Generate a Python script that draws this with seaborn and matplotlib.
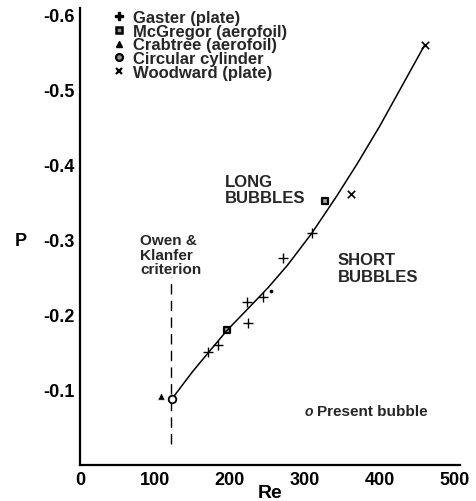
import matplotlib
matplotlib.use("Agg")
import matplotlib.pyplot as plt
from matplotlib.lines import Line2D
import seaborn as sns
import pandas as pd

# Measured data points (Re, P)
gaster_re = [171, 184, 223, 224, 244, 271, 309]
gaster_p = [-0.151, -0.159, -0.217, -0.189, -0.223, -0.276, -0.309]
mcgregor_re = [196, 327]
mcgregor_p = [-0.179, -0.351]
crabtree_re = [108]
crabtree_p = [-0.092]
cylinder_re = [255]
cylinder_p = [-0.232]
woodward_re = [361, 460]
woodward_p = [-0.360, -0.559]
present_re = [122.7]
present_p = [-0.088]

# Fitted curve through the data
curve_re = [122.7, 150, 175, 196, 227, 251, 277, 309, 342, 370, 400, 430, 460]
curve_p = [-0.088, -0.124, -0.154, -0.179, -0.211, -0.236, -0.266, -0.308,
           -0.357, -0.401, -0.451, -0.505, -0.559]

# Owen & Klanfer criterion
criterion_re = [122, 122]
criterion_p = [-0.028, -0.250]

x_ticks = [0, 100, 200, 300, 400, 500]
y_ticks = [-0.1, -0.2, -0.3, -0.4, -0.5, -0.6]
y_tick_labels = ["-0.1", "-0.2", "-0.3", "-0.4", "-0.5", "-0.6"]

sns.set_theme(style="white")
plt.rcParams["font.family"] = ["Liberation Sans", "DejaVu Sans"]
plt.rcParams["font.weight"] = "bold"
plt.rcParams["axes.unicode_minus"] = False

W, H = 476, 502
fig = plt.figure(figsize=(W / 100, H / 100), dpi=100)
ax = fig.add_axes([80 / W, 1 - 466 / H, 380 / W, 457 / H])

curve = pd.DataFrame({"Re": curve_re, "P": curve_p})
sns.lineplot(data=curve, x="Re", y="P", sort=False, estimator=None,
             color="black", linewidth=1.1, ax=ax)

ax.plot(criterion_re, criterion_p, color="black", linewidth=1.0,
        dashes=(7.5, 4.5))

sns.scatterplot(x=gaster_re, y=gaster_p, marker="+", s=45, color="black",
                linewidth=1.0, ax=ax)
sns.scatterplot(x=mcgregor_re, y=mcgregor_p, marker="s", s=22,
                facecolor="#a0a0a0", edgecolor="black", linewidth=1.6, ax=ax)
sns.scatterplot(x=crabtree_re, y=crabtree_p, marker="^", s=28, color="black",
                ax=ax)
sns.scatterplot(x=cylinder_re, y=cylinder_p, marker="o", s=8, color="black",
                ax=ax)
sns.scatterplot(x=woodward_re, y=woodward_p, marker="x", s=28, color="black",
                linewidth=1.2, ax=ax)
sns.scatterplot(x=present_re, y=present_p, marker="o", s=30, facecolor="white",
                edgecolor="black", linewidth=1.3, ax=ax, zorder=5)

ax.set_xlim(0, 507)
ax.set_ylim(0, -0.608)
ax.set_xticks(x_ticks)
ax.set_yticks(y_ticks)
ax.set_yticklabels(y_tick_labels)
ax.tick_params(direction="in", length=5, width=1.5, labelsize=13, pad=4,
               color="black", labelcolor="black")
for side in ("top", "right"):
    ax.spines[side].set_visible(False)
for side in ("left", "bottom"):
    ax.spines[side].set_linewidth(1.6)
    ax.spines[side].set_color("black")

ax.set_xlabel("Re", fontsize=14, fontweight="bold", color="black")
ax.xaxis.set_label_coords(0.5, -(494 - 466) / 457)
ax.xaxis.label.set_va("center")
ax.set_ylabel("P", fontsize=13, fontweight="bold", color="black", rotation=0)
ax.yaxis.set_label_coords((21 - 80) / 380, (466 - 242) / 457)
ax.yaxis.label.set_va("center")
ax.yaxis.label.set_ha("center")

ax.text(193, -0.367, "LONG\nBUBBLES", fontsize=12, fontweight="bold",
        ha="left", va="center", linespacing=1.1)
ax.text(344, -0.262, "SHORT\nBUBBLES", fontsize=12, fontweight="bold",
        ha="left", va="center", linespacing=1.1)
ax.text(80, -0.280, "Owen &\nKlanfer\ncriterion", fontsize=11,
        fontweight="bold", ha="left", va="center", linespacing=1.05)
ax.text(305, -0.072, "o", fontsize=10, fontstyle="italic", fontweight="bold",
        ha="center", va="center")
ax.text(316, -0.072, "Present bubble", fontsize=11, fontweight="bold",
        ha="left", va="center")

handles = [
    Line2D([], [], linestyle="none", marker="P", markersize=6, color="black"),
    Line2D([], [], linestyle="none", marker="s", markersize=5,
           markerfacecolor="#909090", markeredgecolor="black",
           markeredgewidth=1.8),
    Line2D([], [], linestyle="none", marker="^", markersize=5, color="black"),
    Line2D([], [], linestyle="none", marker="o", markersize=5,
           markerfacecolor="#909090", markeredgecolor="black",
           markeredgewidth=1.6),
    Line2D([], [], linestyle="none", marker="x", markersize=5, color="black",
           markeredgewidth=1.6),
]
labels = ["Gaster (plate)", "McGregor (aerofoil)", "Crabtree (aerofoil)",
          "Circular cylinder", "Woodward (plate)"]
leg = ax.legend(handles, labels, loc="upper left",
                bbox_to_anchor=((112 - 80) / 380, (466 - 11) / 457),
                frameon=False, fontsize=12, handlelength=0.8,
                handletextpad=0.45, labelspacing=-0.08, borderpad=0,
                borderaxespad=0)
for t in leg.get_texts():
    t.set_fontweight("bold")

fig.savefig("out.png", dpi=100)
